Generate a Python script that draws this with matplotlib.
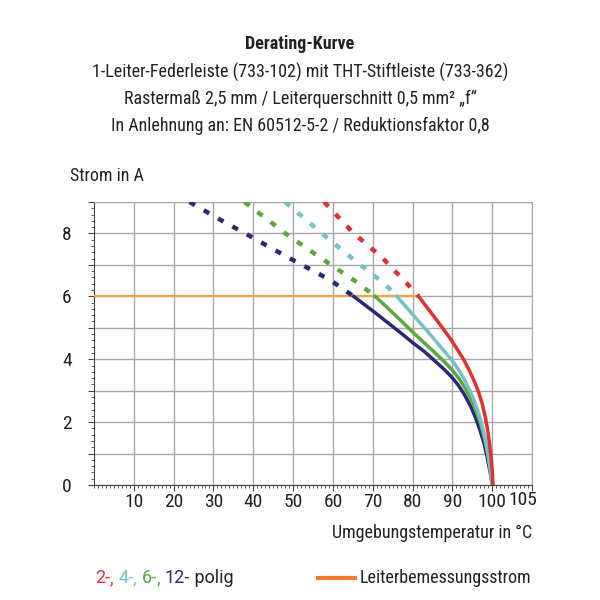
import numpy as np
import matplotlib.pyplot as plt
from matplotlib.ticker import MultipleLocator

plt.rcParams['font.family'] = ['Roboto Condensed', 'DejaVu Sans']
plt.rcParams['font.stretch'] = 'condensed'

# derating curves (temperature in degC, current in A)
# solid part: below rated current
t_2 = [81.5, 83.5, 85.5, 87.5, 89.5, 91.2, 92.8, 94.2, 95.5, 96.6, 97.5, 98.2, 98.8, 99.3, 99.7, 100, 100.2]
i_2 = [6.0, 5.67, 5.34, 5.0, 4.65, 4.32, 4.0, 3.66, 3.3, 2.95, 2.58, 2.2, 1.8, 1.35, 0.9, 0.45, 0.0]
t_4 = [76.05, 78, 80, 82, 84, 86, 88, 90, 91.6, 93, 94.3, 95.5, 96.5, 97.4, 98.2, 98.9, 99.5, 100]
i_4 = [6.0, 5.72, 5.43, 5.14, 4.85, 4.55, 4.25, 3.95, 3.66, 3.36, 3.03, 2.68, 2.32, 1.93, 1.5, 1.02, 0.52, 0.0]
t_6 = [70.6, 73, 76, 79, 82, 85, 88, 90, 91.8, 93.4, 94.8, 96, 97.1, 98, 98.8, 99.4, 100]
i_6 = [6.0, 5.72, 5.36, 4.99, 4.63, 4.28, 3.92, 3.65, 3.36, 3.04, 2.7, 2.35, 1.95, 1.52, 1.05, 0.6, 0.0]
t_12 = [65.2, 68, 71, 74, 77, 80, 83, 86, 88, 90, 91.5, 93, 94.5, 95.8, 97, 98, 98.8, 99.5, 100]
i_12 = [6.0, 5.73, 5.44, 5.14, 4.84, 4.53, 4.24, 3.9, 3.67, 3.41, 3.17, 2.88, 2.53, 2.15, 1.72, 1.3, 0.85, 0.4, 0.0]

# dashed part: above rated current
td_2 = [57.8, 65, 72.3, 79.4, 81.5]
id_2 = [9.0, 8.03, 7.24, 6.3, 6.0]
td_4 = [48.0, 59.3, 66, 73.1, 76.05]
id_4 = [9.0, 7.78, 7.09, 6.39, 6.0]
td_6 = [37.8, 48.7, 59.3, 66, 70.6]
id_6 = [9.0, 7.94, 7.02, 6.45, 6.0]
td_12 = [24.0, 32.2, 38.4, 48.7, 59.3, 65.2]
id_12 = [9.0, 8.4, 7.97, 7.24, 6.52, 6.0]

# rated current
rated_t = [0, 81.5]
rated_i = [6.0, 6.0]

x_labels = ['10', '20', '30', '40', '50', '60', '70', '80', '90', '100', '']
y_labels = ['0', '', '2', '', '4', '', '6', '', '8', '']

red = '#e0302f'
cyan = '#74c3c7'
green = '#5aa83e'
navy = '#29297a'
orange = '#f6a24a'
dark = '#222222'
fs = 13
tfs = 14

fig = plt.figure(figsize=(6, 6), dpi=100)
ax = fig.add_axes([94/600, 1 - 485/600, (532 - 94)/600, (485 - 202)/600])

ax.plot(rated_t, rated_i, color=orange, lw=1.6, zorder=3)

for t, i, td, idd, c in [(t_12, i_12, td_12, id_12, navy),
                         (t_6, i_6, td_6, id_6, green),
                         (t_4, i_4, td_4, id_4, cyan),
                         (t_2, i_2, td_2, id_2, red)]:
    ax.plot(t, i, color=c, lw=2.5, zorder=4, solid_joinstyle='round')
    ax.plot(td, idd, color=c, lw=3.2, zorder=4, dashes=(1.4, 2.3))

ax.set_xlim(0, 110)
ax.set_ylim(0, 9)
ax.set_xticks(range(10, 111, 10))
ax.set_xticklabels(x_labels)
ax.set_yticks(range(0, 10))
ax.set_yticklabels(y_labels)
ax.xaxis.set_minor_locator(MultipleLocator(1))
ax.yaxis.set_minor_locator(MultipleLocator(0.2))
ax.tick_params(axis='both', which='major', labelsize=tfs, length=4,
               color='#444444', labelcolor=dark)
ax.tick_params(axis='both', which='minor', length=2, color='#444444')
ax.tick_params(axis='x', pad=2)
ax.tick_params(axis='y', pad=12)
ax.grid(True, which='major', color='#a8a8a8', lw=1)
for s in ['top', 'right']:
    ax.spines[s].set_color('#a8a8a8')
for s in ['left', 'bottom']:
    ax.spines[s].set_color('#444444')
# extra "105" label, shifted right of the 100 label
ax.text(107.6, -0.2, '105', ha='center', va='top', fontsize=tfs, color=dark)

# titles
title_lines = ['1-Leiter-Federleiste (733-102) mit THT-Stiftleiste (733-362)',
               'Rastermaß 2,5 mm / Leiterquerschnitt 0,5 mm² „f“',
               'In Anlehnung an: EN 60512-5-2 / Reduktionsfaktor 0,8']
fig.text(0.5, 1 - 44/600, 'Derating-Kurve', ha='center', va='center',
         fontsize=fs, fontweight='bold', color=dark)
for k, line in enumerate(title_lines):
    fig.text(0.5, 1 - (72 + 27*k)/600, line, ha='center', va='center',
             fontsize=fs, color=dark)

fig.text(70/600, 1 - 176/600, 'Strom in A', ha='left', va='center',
         fontsize=fs, color=dark)
fig.text(532/600, 1 - 533/600, 'Umgebungstemperatur in °C', ha='right',
         va='center', fontsize=fs, color=dark)

# legend row: coloured pole counts, then the rated current line
parts = [('2-', red), (', ', red), ('4-', cyan), (', ', cyan), ('6-', green),
         (', ', green), ('12-', navy), (' polig', dark)]
leg_font = ['Roboto', 'DejaVu Sans']
prev = fig.text(95/600, 1 - 578/600, parts[0][0], color=parts[0][1],
                fontsize=fs, va='center', ha='left', family=leg_font,
                fontstretch='normal')
for txt, c in parts[1:]:
    prev = ax.annotate(txt, xy=(1, 0), xycoords=prev, va='bottom', ha='left',
                       color=c, fontsize=fs, annotation_clip=False,
                       family=leg_font, fontstretch='normal')
fig.add_artist(plt.Line2D([318/600, 355/600], [1 - 578/600, 1 - 578/600],
                          color='#f07a30', lw=3))
fig.text(360/600, 1 - 578/600, 'Leiterbemessungsstrom', ha='left',
         va='center', fontsize=fs, color=dark)

fig.savefig('out.png', dpi=100)
